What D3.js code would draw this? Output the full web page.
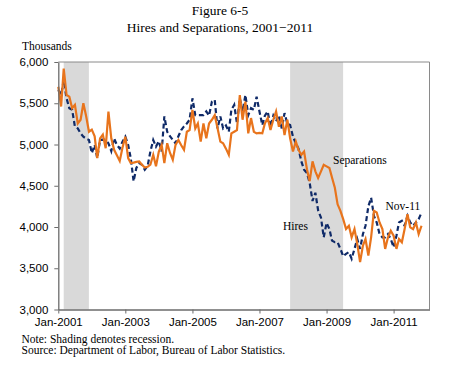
<!DOCTYPE html>
<html>
<head>
<meta charset="utf-8">
<script src="https://cdn.jsdelivr.net/npm/d3@7"></script>
<style>
  body { margin: 0; background: #fff; }
  svg { font-family: "Liberation Serif", "Times New Roman", serif; }
  .axis text { font-size: 11.5px; fill: #000; }
  .axis path, .axis line { stroke: #6b6b6b; }
</style>
</head>
<body>
<svg id="chart"></svg>
<script>
// monthly values, Jan-2001 .. Nov-2011 (thousands)
const hires = [
  5660, 5600, 5780, 5560, 5440, 5420, 5215, 5195, 5135, 5095, 5070, 5055,
  4895, 4995, 4835, 5055, 5060, 5055, 5015, 4920, 5075, 4995, 4950, 5035,
  5095, 4995, 4835, 4555, 4715, 4775, 4755, 4695, 4740, 4915, 5055, 4975,
  5040, 4915, 5340, 5155, 5100, 5055, 5015, 5100, 5175, 5220, 5255, 5300,
  5560, 5355, 5355, 5355, 5355, 5400, 5350, 5520, 5540, 5195, 5340, 5195,
  5230, 5155, 5420, 5480, 5255, 5560, 5400, 5600, 5355, 5440, 5420, 5580,
  5400, 5235, 5350, 5400, 5215, 5350, 5280, 5355, 5195, 5380, 5250, 5235,
  5095, 5015, 4950, 4795, 4695, 4655, 4535, 4315, 4415, 4200, 4115, 3875,
  4050, 3975, 3835, 3815, 3815, 3735, 3645, 3675, 3695, 3615, 3735, 3855,
  3735, 3915, 4015, 4250, 4355, 4135, 4055, 3915, 3875, 3875, 3915, 3855,
  3755, 3895, 4055, 4075, 4015, 4135, 4055, 4015, 4055, 4095, 4175
];

const separations = [
  5700, 5460, 5920, 5600, 5580, 5440, 5480, 5255, 5300, 5500, 5340, 5155,
  5180, 5100, 4835, 5075, 5120, 4955, 5400, 5075, 4935, 4870, 4800, 4960,
  5095, 4835, 4775, 4780, 4790, 4795, 4755, 4720, 4730, 4755, 4875, 4735,
  4915, 4995, 4775, 5015, 4900, 4815, 4995, 5055, 4990, 4935, 5155, 5175,
  5420, 5195, 5255, 5035, 5255, 5075, 5255, 5300, 5355, 5200, 5035, 5015,
  4950, 4875, 5135, 5155, 5175, 5600, 5300, 5520, 5135, 5320, 5155, 5135,
  5140, 5135, 5255, 5320, 5175, 5300, 5400, 5215, 5340, 5115, 5300, 5075,
  4915, 5035, 4935, 4875, 4915, 4700, 4555, 4795, 4675, 4595, 4675, 4755,
  4735, 4715, 4600, 4475, 4275, 4195, 4095, 3975, 4015, 3875, 3975, 3795,
  3575, 3775, 3855, 3655, 3875, 4195, 4175, 4055, 3975, 3735, 3875, 3955,
  3895, 3735, 3855, 3815, 3975, 4155, 3995, 3975, 4055, 3915, 4015
];

const yTicks = [3000, 3500, 4000, 4500, 5000, 5500, 6000];
const xTickYears = [2001, 2003, 2005, 2007, 2009, 2011];
const recessions = [
  ["2001-03-01", "2001-11-30"],
  ["2007-12-01", "2009-06-30"]
];

const W = 465, H = 372;
const plot = { left: 58.3, right: 429.5, top: 62, bottom: 309.5 };

const svg = d3.select("#chart").attr("width", W).attr("height", H);

const monthDate = i => new Date(2001, i, 1);
const parse = d3.timeParse("%Y-%m-%d");

const x = d3.scaleTime()
  .domain([new Date(2001, 0, 1), new Date(2012, 0, 27)])
  .range([plot.left, plot.right]);

const y = d3.scaleLinear()
  .domain([3000, 6000])
  .range([plot.bottom, plot.top]);

// recession shading
svg.append("g")
  .selectAll("rect")
  .data(recessions)
  .join("rect")
  .attr("x", d => x(parse(d[0])))
  .attr("width", d => x(parse(d[1])) - x(parse(d[0])))
  .attr("y", plot.top)
  .attr("height", plot.bottom - plot.top)
  .attr("fill", "#d9d9d9");

// top/right frame
svg.append("path")
  .attr("d", `M${plot.left},${plot.top}H${plot.right}V${plot.bottom}`)
  .attr("fill", "none")
  .attr("stroke", "#8a8a8a")
  .attr("stroke-width", 1);

const line = d3.line()
  .x((d, i) => x(monthDate(i)))
  .y(d => y(d));

svg.append("path")
  .datum(hires)
  .attr("d", line)
  .attr("fill", "none")
  .attr("stroke", "#0f2a68")
  .attr("stroke-width", 2.2)
  .attr("stroke-dasharray", "5,3");

svg.append("path")
  .datum(separations)
  .attr("d", line)
  .attr("fill", "none")
  .attr("stroke", "#e8741c")
  .attr("stroke-width", 2.2);

// axes
svg.append("g")
  .attr("class", "axis")
  .attr("transform", `translate(${plot.left},0)`)
  .call(d3.axisLeft(y).tickValues(yTicks).tickFormat(d3.format(",")).tickSizeInner(4).tickSizeOuter(0).tickPadding(6))
  .call(g => g.select(".domain").attr("stroke-width", 1.3));

svg.append("g")
  .attr("class", "axis")
  .attr("transform", `translate(0,${plot.bottom})`)
  .call(d3.axisBottom(x)
    .tickValues(xTickYears.map(yr => new Date(yr, 0, 1)))
    .tickFormat(d3.timeFormat("%b-%Y"))
    .tickSizeInner(4).tickSizeOuter(0).tickPadding(4))
  .call(g => g.select(".domain").attr("stroke-width", 1.3));

// titles and notes
const txt = (s, tx, ty, size, anchor) =>
  svg.append("text")
    .attr("x", tx).attr("y", ty)
    .attr("font-size", size)
    .attr("text-anchor", anchor || "start")
    .attr("fill", "#000")
    .text(s);

txt("Figure 6-5", 220, 14.5, "13.5px", "middle");
txt("Hires and Separations, 2001\u22122011", 220, 32, "13.5px", "middle");
txt("Thousands", 22, 49.5, "11.5px");

txt("Separations", 333, 163.5, "11.5px");
txt("Hires", 283, 229.5, "11.5px");
txt("Nov-11", 385.5, 209.5, "11.5px");

txt("Note: Shading denotes recession.", 21.5, 343, "11.5px");
txt("Source: Department of Labor, Bureau of Labor Statistics.", 21.5, 353.5, "11.5px");
</script>
</body>
</html>
